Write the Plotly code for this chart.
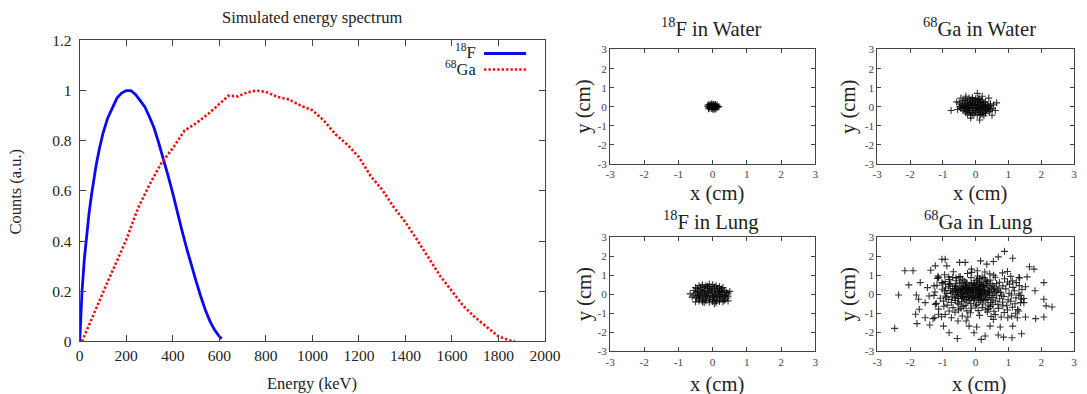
import plotly.graph_objects as go

# Page layout: the figure sits inside the 8px body margin; positions below are
# given in screen pixels and converted to paper fractions by the helpers.
EDGE = 8
SX, SY = 0.98, 0.954
DX = 2.5
W, H = 1090, 395
FONT = "Liberation Serif"
FS = 1.03  # text scale so type keeps its intended on-screen size

# ---- Energy spectra (normalised counts) ----
f18_energy = [0, 10, 20, 30, 40, 50, 60, 70, 85, 100, 120, 140, 160, 180, 200, 220, 240,
              260, 280, 300, 320, 340, 360, 380, 400, 420, 440, 460, 480, 500, 520, 540,
              560, 580, 600, 610]
f18_counts = [0, 0.2, 0.33, 0.43, 0.51, 0.58, 0.64, 0.70, 0.77, 0.83, 0.89, 0.93, 0.97, 0.99,
              1.0, 1.0, 0.985, 0.96, 0.935, 0.895, 0.85, 0.79, 0.73, 0.66, 0.59, 0.51, 0.44,
              0.37, 0.30, 0.24, 0.18, 0.125, 0.08, 0.045, 0.02, 0.01]

ga68_energy = [10, 50, 100, 150, 200, 250, 300, 350, 400, 450, 500, 550, 600, 640, 680, 720,
               760, 800, 850, 900, 950, 1000, 1050, 1100, 1150, 1200, 1250, 1300, 1350, 1400,
               1450, 1500, 1550, 1600, 1650, 1700, 1750, 1800, 1850, 1870]
ga68_counts = [0.0, 0.09, 0.195, 0.30, 0.405, 0.53, 0.625, 0.71, 0.77, 0.84, 0.87, 0.905,
               0.945, 0.98, 0.977, 0.993, 1.0, 0.995, 0.975, 0.965, 0.94, 0.922, 0.88, 0.825,
               0.785, 0.735, 0.66, 0.605, 0.535, 0.475, 0.405, 0.33, 0.26, 0.20, 0.14, 0.095,
               0.058, 0.02, 0.003, 0.0]

spectrum_ticks_x = list(range(0, 2001, 200))
spectrum_ticks_y = [0, 0.2, 0.4, 0.6, 0.8, 1.0, 1.2]
pos_ticks = [-3, -2, -1, 0, 1, 2, 3]
pos_labels = ["-3", "-2", "-1", "0", "1", "2", "3"]

# ---- Annihilation positions (cm) ----
f18_water_pts = [(-0.1, 0.05), (-0.05, 0.08), (0, 0.1), (0.05, 0.07), (0.1, 0.04), (-0.12, -0.02),
                 (-0.06, 0), (0, 0.01), (0.06, -0.01), (0.12, 0.0), (-0.1, -0.07), (-0.04, -0.1),
                 (0.02, -0.08), (0.08, -0.06), (-0.08, 0.12), (0, -0.13), (0.08, 0.11),
                 (-0.15, 0.02), (0.15, -0.03), (0.04, 0.03), (-0.02, -0.04), (0.18, 0.01),
                 (-0.03, 0.15), (0.1, -0.12), (-0.13, 0.1), (0.13, 0.09), (-0.12, -0.11),
                 (0.05, -0.14), (-0.05, 0.04), (0.03, 0.12)]

ga68_water_pts = [(-0.4, 0.3), (-0.3, 0.4), (-0.2, 0.45), (-0.1, 0.4), (0, 0.42), (0.1, 0.38),
                  (0.2, 0.35), (0.3, 0.25), (-0.45, 0.1), (-0.35, 0.15), (-0.25, 0.2), (-0.15, 0.25),
                  (-0.05, 0.22), (0.05, 0.2), (0.15, 0.18), (0.25, 0.12), (0.35, 0.1), (0.45, 0.05),
                  (-0.42, -0.05), (-0.32, 0.0), (-0.22, 0.05), (-0.12, 0.08), (-0.02, 0.06),
                  (0.08, 0.03), (0.18, 0.0), (0.28, -0.02), (0.38, -0.05), (0.5, -0.1),
                  (-0.38, -0.2), (-0.28, -0.15), (-0.18, -0.1), (-0.08, -0.12), (0.02, -0.1),
                  (0.12, -0.15), (0.22, -0.18), (0.32, -0.2), (0.42, -0.25), (-0.3, -0.32),
                  (-0.2, -0.3), (-0.1, -0.35), (0, -0.3), (0.1, -0.32), (0.2, -0.38), (0.3, -0.35),
                  (-0.15, -0.45), (0.05, -0.45), (0.25, -0.48), (-0.5, 0.2), (0.55, 0.1),
                  (-0.55, -0.15), (-0.35, 0.32), (-0.25, 0.3), (-0.15, 0.35), (-0.05, 0.32),
                  (0.05, 0.3), (0.15, 0.28), (0.25, 0.22), (-0.4, 0.05), (-0.3, 0.08), (-0.2, 0.12),
                  (-0.1, 0.15), (0, 0.12), (0.1, 0.1), (0.2, 0.08), (0.3, 0.05), (0.4, 0.0),
                  (-0.35, -0.1), (-0.25, -0.05), (-0.15, -0.02), (-0.05, -0.03), (0.05, -0.05),
                  (0.15, -0.08), (0.25, -0.1), (0.35, -0.12), (0.45, -0.15), (-0.3, -0.25),
                  (-0.2, -0.2), (-0.1, -0.22), (0, -0.2), (0.1, -0.24), (0.2, -0.28), (0.3, -0.28),
                  (-0.05, -0.4), (0.15, -0.42), (-0.25, -0.4), (-0.45, -0.1), (-0.48, 0.0),
                  (0.45, 0.15), (-0.1, 0.48), (0.1, 0.45),
                  (-0.75, -0.2), (0.64, 0.2), (0.05, 0.7), (0.12, -0.7), (-0.15, -0.6),
                  (0.5, -0.45), (-0.45, 0.45), (-0.58, 0.25), (0.6, -0.2), (0.4, 0.45),
                  (-0.3, 0.55), (0.2, 0.55)]

f18_lung_pts = [(-0.5, 0.35), (-0.4, 0.45), (-0.3, 0.5), (-0.2, 0.45), (-0.1, 0.52), (0, 0.5),
                (0.1, 0.45), (0.2, 0.4), (0.3, 0.35), (-0.45, 0.15), (-0.35, 0.25), (-0.25, 0.2),
                (-0.15, 0.3), (-0.05, 0.25), (0.05, 0.28), (0.15, 0.2), (0.25, 0.15), (0.35, 0.2),
                (0.45, 0.05), (-0.55, -0.05), (-0.42, 0.0), (-0.32, 0.05), (-0.22, 0.02),
                (-0.12, 0.08), (-0.02, 0.05), (0.08, 0.0), (0.18, 0.05), (0.28, -0.02),
                (0.38, -0.05), (-0.48, -0.2), (-0.38, -0.15), (-0.28, -0.2), (-0.18, -0.12),
                (-0.08, -0.18), (0.02, -0.15), (0.12, -0.2), (0.22, -0.18), (0.32, -0.25),
                (0.42, -0.2), (-0.4, -0.35), (-0.3, -0.4), (-0.2, -0.35), (-0.1, -0.42),
                (0, -0.38), (0.1, -0.45), (0.2, -0.38), (0.3, -0.4), (-0.66, 0.02), (0.5, 0.15),
                (-0.5, -0.4), (0.45, -0.35),
                (-0.45, 0.3), (-0.35, 0.38), (-0.25, 0.35), (-0.15, 0.4), (-0.05, 0.38),
                (0.05, 0.38), (0.15, 0.32), (0.25, 0.28), (-0.5, 0.08), (-0.4, 0.12), (-0.3, 0.15),
                (-0.2, 0.12), (-0.1, 0.18), (0, 0.15), (0.1, 0.12), (0.2, 0.12), (0.3, 0.1),
                (0.4, 0.1), (-0.45, -0.1), (-0.35, -0.05), (-0.25, -0.08), (-0.15, -0.05),
                (-0.05, -0.08), (0.05, -0.08), (0.15, -0.1), (0.25, -0.1), (0.35, -0.12),
                (-0.4, -0.25), (-0.3, -0.3), (-0.2, -0.25), (-0.1, -0.3), (0, -0.28), (0.1, -0.32),
                (0.2, -0.3), (0.35, -0.32), (-0.25, -0.45), (0.05, -0.5), (-0.55, 0.2),
                (0.45, -0.1), (-0.6, -0.15)]

ga68_lung_outer = [(-2.47, -1.79), (-2.35, -0.04), (-2.16, 1.23), (-1.91, 1.23), (-2.04, 0.49),
                   (-1.83, -1.05), (-1.79, -1.54), (-1.81, -0.04), (-1.74, -0.26), (-1.69, 0.61),
                   (-1.72, -0.79), (-1.54, -1.23), (-1.40, -1.61), (-1.30, -1.28), (-1.37, 1.26),
                   (-1.23, 1.49), (-1.03, 1.84), (-0.93, 1.84), (-0.88, 1.49), (-0.81, -2.02),
                   (-0.98, -1.67), (-0.56, -2.32), (-0.49, 1.67), (-0.32, 1.67), (-0.05, -2.02),
                   (0.03, -1.72), (0.17, -2.37), (0.29, -2.19), (0.15, 1.75), (0.44, -1.67),
                   (0.69, -2.14), (0.85, -2.25), (1.11, -2.28), (0.75, -1.72), (0.88, 2.25),
                   (0.69, 1.96), (1.13, 1.89), (1.40, -2.07), (1.64, 1.44), (1.78, 1.32),
                   (1.57, 0.91), (1.32, 0.88), (2.08, 0.61), (1.81, 0.18), (2.08, -0.26),
                   (2.15, -0.61), (2.33, -0.67), (2.08, -1.19), (1.83, -1.28), (1.52, -1.19),
                   (1.47, -0.44), (1.52, 0.39), (1.40, -0.26), (1.32, -0.88), (1.27, -1.23),
                   (0.98, -1.23), (0.54, 1.72), (0.34, 1.58), (-0.13, 1.32), (0.05, 1.23),
                   (-1.13, 0.88), (-1.27, 0.44), (-1.47, 0.35), (-1.42, -0.09), (-1.54, -0.44),
                   (-1.23, -0.53), (-1.13, -1.05), (-1.25, -1.23), (-0.74, -1.23), (-0.54, -1.40),
                   (-0.29, -1.40), (-0.20, -1.67), (0.54, -1.32), (1.13, -1.67)]

ga68_lung_core = [
    (-0.95, 1.02), (-0.68, 1.18), (-0.47, 0.93), (-0.25, 1.09), (0.06, 0.96), (0.28, 1.17),
    (0.55, 1.0), (0.82, 1.12), (1.07, 0.94), (-0.82, 0.91), (-0.12, 1.15), (0.43, 1.07),
    (0.97, 1.19), (-1.15, 0.95), (0.2, 0.9),
    (-1.17, 0.83), (-0.93, 0.66), (-0.7, 0.88), (-0.58, 0.71), (-0.4, 0.79), (-0.29, 0.62),
    (-0.14, 0.87), (0.02, 0.72), (0.17, 0.64), (0.26, 0.86), (0.44, 0.74), (0.6, 0.89),
    (0.73, 0.63), (0.88, 0.81), (1.12, 0.7), (1.34, 0.85), (-1.03, 0.61), (-0.51, 0.9),
    (-0.05, 0.6), (0.35, 0.66), (0.97, 0.64), (1.24, 0.61), (-0.8, 0.77), (0.12, 0.83),
    (-1.18, 0.47), (-0.92, 0.33), (-0.76, 0.56), (-0.63, 0.41), (-0.49, 0.58), (-0.43, 0.32),
    (-0.33, 0.49), (-0.21, 0.37), (-0.12, 0.57), (-0.02, 0.44), (0.09, 0.31), (0.14, 0.53),
    (0.24, 0.4), (0.33, 0.58), (0.41, 0.34), (0.52, 0.47), (0.64, 0.56), (0.71, 0.32),
    (0.83, 0.44), (1.03, 0.53), (1.14, 0.36), (1.33, 0.45), (-1.0, 0.55), (-0.57, 0.34),
    (-0.27, 0.59), (0.04, 0.51), (0.19, 0.45), (0.58, 0.38), (-0.83, 0.42), (-0.38, 0.4),
    (0.46, 0.55), (-0.08, 0.34),
    (-1.24, 0.12), (-1.02, 0.26), (-0.88, 0.04), (-0.77, 0.19), (-0.64, 0.28), (-0.58, 0.08),
    (-0.47, 0.21), (-0.39, 0.02), (-0.31, 0.27), (-0.24, 0.13), (-0.16, 0.03), (-0.09, 0.24),
    (-0.01, 0.16), (0.05, 0.02), (0.11, 0.27), (0.18, 0.09), (0.27, 0.2), (0.32, 0.04),
    (0.43, 0.14), (0.49, 0.29), (0.57, 0.06), (0.68, 0.22), (0.76, 0.1), (0.92, 0.28),
    (1.02, 0.05), (1.18, 0.18), (1.41, 0.25), (1.32, 0.03), (-0.69, 0.12), (-0.53, 0.16),
    (-0.36, 0.18), (-0.2, 0.28), (-0.05, 0.07), (0.08, 0.19), (0.22, 0.25), (0.37, 0.1),
    (-0.44, 0.09), (-0.13, 0.15), (0.14, 0.05), (0.62, 0.15), (-0.95, 0.17), (-0.27, 0.06),
    (-1.27, -0.06), (-1.08, -0.21), (-0.93, -0.09), (-0.82, -0.27), (-0.71, -0.14),
    (-0.6, -0.03), (-0.52, -0.22), (-0.41, -0.11), (-0.33, -0.28), (-0.26, -0.04),
    (-0.18, -0.18), (-0.1, -0.07), (-0.03, -0.26), (0.04, -0.13), (0.12, -0.02),
    (0.19, -0.21), (0.26, -0.1), (0.34, -0.27), (0.42, -0.05), (0.53, -0.17), (0.64, -0.08),
    (0.73, -0.24), (0.86, -0.12), (0.99, -0.29), (1.09, -0.04), (1.23, -0.19), (1.47, -0.22),
    (1.36, -0.06), (-0.64, -0.19), (-0.47, -0.02), (-0.22, -0.13), (0.08, -0.24), (0.3, -0.01),
    (0.47, -0.29), (-0.37, -0.17), (-0.07, -0.16), (0.16, -0.08), (0.79, -0.04),
    (-1.2, -0.48), (-0.98, -0.36), (-0.87, -0.57), (-0.74, -0.43), (-0.62, -0.33),
    (-0.51, -0.52), (-0.43, -0.38), (-0.32, -0.59), (-0.27, -0.41), (-0.15, -0.49),
    (-0.06, -0.33), (0.03, -0.56), (0.1, -0.42), (0.22, -0.51), (0.29, -0.34), (0.38, -0.58),
    (0.46, -0.44), (0.6, -0.36), (0.68, -0.53), (0.82, -0.41), (0.95, -0.58), (1.07, -0.37),
    (1.2, -0.5), (1.37, -0.44), (-0.2, -0.31), (0.15, -0.32), (-0.55, -0.46), (0.52, -0.55),
    (-1.13, -0.78), (-0.97, -0.63), (-0.81, -0.88), (-0.69, -0.7), (-0.52, -0.82),
    (-0.38, -0.64), (-0.27, -0.87), (-0.13, -0.73), (0.0, -0.62), (0.08, -0.86), (0.2, -0.7),
    (0.31, -0.81), (0.45, -0.65), (0.56, -0.89), (0.7, -0.74), (0.83, -0.62), (0.97, -0.83),
    (1.12, -0.68), (1.28, -0.8), (-0.45, -0.74), (0.4, -0.77),
    (-0.93, -1.06), (-0.63, -0.94), (-0.41, -1.14), (-0.16, -0.97), (0.12, -1.11),
    (0.36, -0.93), (0.6, -1.07), (0.87, -0.96), (1.1, -1.15), (-1.04, -1.18), (-0.24, -1.19),
    (0.47, -1.17), (0.78, -1.19), (1.22, -1.0),
    (-0.62, 0.47), (-0.45, 0.6), (-0.3, 0.43), (-0.17, 0.48), (-0.04, 0.52), (0.1, 0.6),
    (0.23, 0.5), (0.37, 0.46), (-0.7, 0.3), (-0.52, 0.25), (-0.4, 0.29), (-0.26, 0.35),
    (-0.14, 0.3), (0.0, 0.36), (0.12, 0.38), (0.28, 0.33), (-0.75, 0.06), (-0.6, 0.18),
    (-0.33, 0.1), (-0.19, 0.2), (-0.07, 0.13), (0.03, 0.25), (0.2, 0.15), (0.4, 0.22),
    (-0.55, -0.09), (-0.42, -0.24), (-0.29, -0.15), (-0.13, -0.22), (0.0, -0.08),
    (0.1, -0.17), (0.23, -0.28), (0.38, -0.18), (-0.8, 0.52), (0.55, 0.25), (-0.9, -0.15),
    (0.5, -0.05), (-0.35, 0.7), (0.05, 0.8), (-0.6, 0.85), (0.3, 0.75),
]


def px_x(p):
    return ((p + DX) / SX - EDGE) / W


def px_y(p):
    return 1 - (p / SY - EDGE) / H


def dom_x(a, b):
    return [max(0.0, px_x(a)), min(1.0, px_x(b))]


def dom_y(top, bottom):
    return [max(0.0, px_y(bottom)), min(1.0, px_y(top))]


def fsz(s):
    return round(s * FS, 1)


fig = go.Figure()

# Spectra
fig.add_trace(go.Scatter(x=f18_energy, y=f18_counts, mode="lines",
                         line=dict(color="#0a0af0", width=2.8), xaxis="x", yaxis="y",
                         showlegend=False))
fig.add_trace(go.Scatter(x=ga68_energy, y=ga68_counts, mode="lines",
                         line=dict(color="#f01010", width=2.6, dash="2.4px,2px"),
                         xaxis="x", yaxis="y", showlegend=False))

# Position scatter panels
panels = [
    (f18_water_pts, "2", "<sup>18</sup>F in Water"),
    (ga68_water_pts, "3", "<sup>68</sup>Ga in Water"),
    (f18_lung_pts, "4", "<sup>18</sup>F in Lung"),
    (ga68_lung_outer + ga68_lung_core, "5", "<sup>68</sup>Ga in Lung"),
]
marker = dict(symbol="cross-thin-open", size=5, color="rgba(0,0,0,0.8)",
              line=dict(width=1.1, color="rgba(0,0,0,0.8)"))
for pts, k, _ in panels:
    fig.add_trace(go.Scatter(x=[p[0] for p in pts], y=[p[1] for p in pts], mode="markers",
                             marker=marker, xaxis="x" + k, yaxis="y" + k, showlegend=False))

frame = dict(showline=True, linecolor="#444", linewidth=1, mirror="allticks",
             ticks="inside", showgrid=False, zeroline=False)

layout = dict(
    width=W, height=H, margin=dict(l=0, r=0, t=0, b=0),
    paper_bgcolor="white", plot_bgcolor="white",
    font=dict(family=FONT, color="#222"),
    xaxis=dict(domain=dom_x(80, 545), range=[0, 2000], tickvals=spectrum_ticks_x,
               ticklen=6, tickcolor="#444", tickfont=dict(size=fsz(15), color="#222"),
               anchor="y", **frame),
    yaxis=dict(domain=dom_y(39, 339), range=[0, 1.2], tickvals=spectrum_ticks_y,
               ticklen=6, tickcolor="#444", tickfont=dict(size=fsz(15), color="#222"),
               ticklabelstandoff=4, anchor="x", **frame),
)

panel_boxes = {
    "2": (610, 815, 48, 162),
    "3": (877, 1080, 48, 162),
    "4": (610, 815, 235, 349),
    "5": (877, 1080, 235, 349),
}
for k, (x0, x1, y0, y1) in panel_boxes.items():
    layout["xaxis" + k] = dict(domain=dom_x(x0, x1), range=[-3, 3], tickvals=pos_ticks,
                               ticktext=pos_labels, ticklen=4, tickcolor="#444",
                               tickfont=dict(size=fsz(11), color="#444"), anchor="y" + k,
                               **frame)
    layout["yaxis" + k] = dict(domain=dom_y(y0, y1), range=[-3, 3], tickvals=pos_ticks,
                               ticktext=pos_labels, ticklen=4, tickcolor="#444",
                               tickfont=dict(size=fsz(11), color="#444"), anchor="x" + k,
                               **frame)

annotations = [
    dict(text="Simulated energy spectrum", x=px_x(312), y=px_y(16), font=dict(size=16)),
    dict(text="Energy (keV)", x=px_x(312), y=px_y(381), font=dict(size=16)),
    dict(text="Counts (a.u.)", x=px_x(16), y=px_y(190), textangle=-90, font=dict(size=16)),
    dict(text="<sup>18</sup>F", x=px_x(478), y=px_y(50), xanchor="right", font=dict(size=16)),
    dict(text="<sup>68</sup>Ga", x=px_x(478), y=px_y(67), xanchor="right", font=dict(size=16)),
]
title_pos = {"2": (711, 26), "3": (979, 26), "4": (711, 218), "5": (978, 218)}
xt_pos = {"2": (717, 192), "3": (980, 192), "4": (717, 382), "5": (979, 382)}
yt_pos = {"2": (584, 105), "3": (848, 105), "4": (584, 292), "5": (848, 292)}
for _, k, title in panels:
    tx, ty = title_pos[k]
    annotations.append(dict(text=title, x=px_x(tx), y=px_y(ty), font=dict(size=20)))
    ax, ay = xt_pos[k]
    annotations.append(dict(text="x (cm)", x=px_x(ax), y=px_y(ay), font=dict(size=20)))
    bx, by = yt_pos[k]
    annotations.append(dict(text="y (cm)", x=px_x(bx), y=px_y(by), textangle=-90,
                            font=dict(size=20)))
for a in annotations:
    a.update(xref="paper", yref="paper", showarrow=False)
    a.setdefault("xanchor", "center")
    a["yanchor"] = "middle"
    a["font"] = dict(family=FONT, color="#222", size=fsz(a["font"]["size"]))
layout["annotations"] = annotations

# Legend samples drawn beside the labels
layout["shapes"] = [
    dict(type="line", xref="paper", yref="paper", x0=px_x(484), x1=px_x(526),
         y0=px_y(52), y1=px_y(52), line=dict(color="#0a0af0", width=2.8)),
    dict(type="line", xref="paper", yref="paper", x0=px_x(484), x1=px_x(526),
         y0=px_y(68), y1=px_y(68), line=dict(color="#f01010", width=2.6, dash="2.4px,2px")),
]

fig.update_layout(**layout)
fig.write_html("out.html")
